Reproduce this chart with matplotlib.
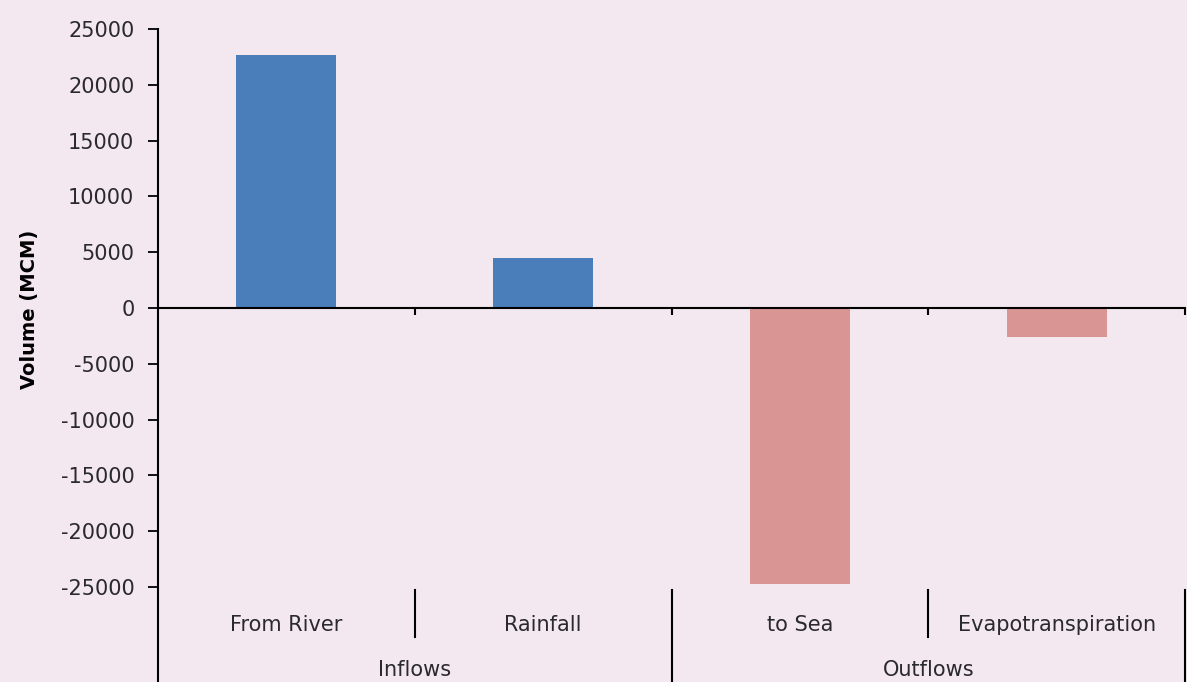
import matplotlib
matplotlib.use('Agg')
import matplotlib.pyplot as plt

# Water balance components (MCM)
categories = ['From River', 'Rainfall', 'to Sea', 'Evapotranspiration']
groups = ['Inflows', 'Outflows']
volumes = [22650, 4450, -24700, -2550]
bar_colors = ['#4a7ebb', '#4a7ebb', '#d99594', '#d99594']
yticks = [25000, 20000, 15000, 10000, 5000, 0, -5000, -10000, -15000, -20000, -25000]

BG = '#f3e7f0'
plt.rcParams['font.family'] = ['DejaVu Sans']

fig = plt.figure(figsize=(11.87, 6.82), dpi=100, facecolor=BG)
ax = fig.add_axes([158 / 1187, 0.0, (1185 - 158) / 1187, (682 - 29) / 682])
ax.set_facecolor(BG)

x = range(len(categories))
ax.bar(x, volumes, width=0.39, color=bar_colors, zorder=2)

ax.set_xlim(-0.5, 3.5)
ax.set_ylim(-33500, 25000)
ax.set_yticks(yticks)
ax.set_yticklabels([str(v) for v in yticks], fontsize=15, color='#2a2a2a')
ax.tick_params(axis='y', length=7, width=1.3, pad=10)

# x axis sits on zero, ticks between categories
for side in ['top', 'right']:
    ax.spines[side].set_visible(False)
ax.spines['bottom'].set_position(('data', 0))
ax.spines['left'].set_linewidth(1.5)
ax.spines['bottom'].set_linewidth(1.5)
ax.set_xticks([0.5, 1.5, 2.5, 3.5])
ax.set_xticklabels([])
ax.tick_params(axis='x', direction='out', length=5, width=1.5)

ax.set_ylabel('Volume (MCM)', fontsize=14, fontweight='bold')
ax.yaxis.set_label_coords(-0.116, 0.571)

# multi-level category labels below the plot
for i, name in enumerate(categories):
    ax.text(i, -28400, name, ha='center', va='center', fontsize=15, color='#2a2a2a')
for j, name in enumerate(groups):
    ax.text(2 * j + 0.5, -32450, name, ha='center', va='center', fontsize=15, color='#2a2a2a')

for xs in [0.5, 2.5]:
    ax.plot([xs, xs], [-25300, -29500], color='black', lw=1.5, clip_on=False)
for xs in [1.5, 3.5]:
    ax.plot([xs, xs], [-25300, -33500], color='black', lw=1.5, clip_on=False)

fig.savefig('out.png', dpi=100, facecolor=BG)
